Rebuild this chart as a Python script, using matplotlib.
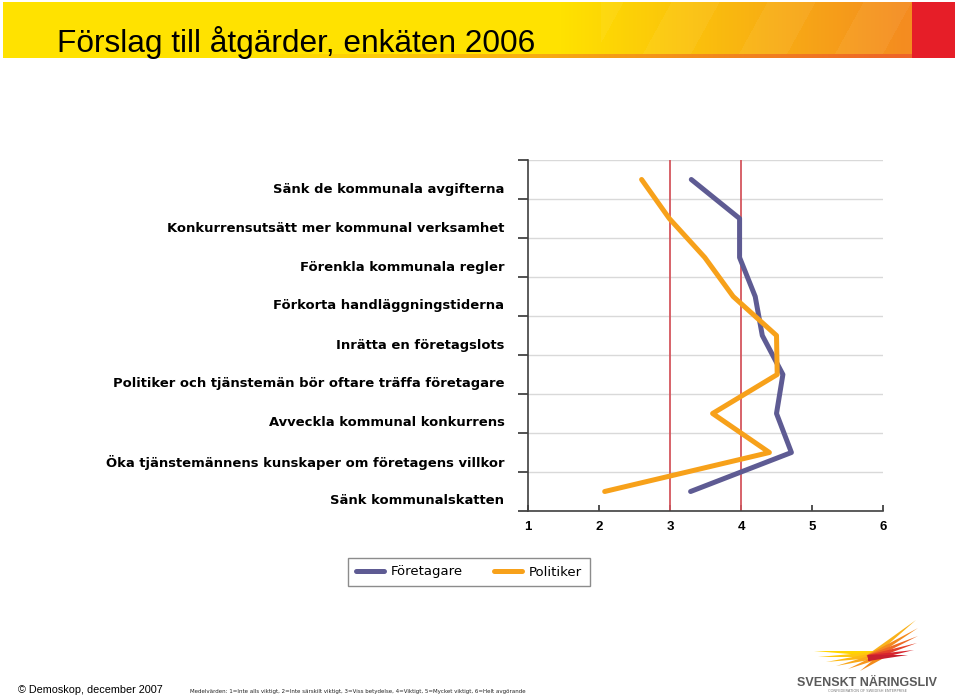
import numpy as np
import matplotlib.pyplot as plt
from matplotlib.transforms import ScaledTranslation

# data
categories = [
    "Sänk de kommunala avgifterna",
    "Konkurrensutsätt mer kommunal verksamhet",
    "Förenkla kommunala regler",
    "Förkorta handläggningstiderna",
    "Inrätta en företagslots",
    "Politiker och tjänstemän bör oftare träffa företagare",
    "Avveckla kommunal konkurrens",
    "Öka tjänstemännens kunskaper om företagens villkor",
    "Sänk kommunalskatten",
]
foretagare = [3.30, 3.98, 3.98, 4.20, 4.30, 4.59, 4.50, 4.71, 3.29]
politiker = [2.60, 2.99, 3.49, 3.89, 4.50, 4.51, 3.60, 4.40, 2.08]
x_ticks = [1, 2, 3, 4, 5, 6]
ref_lines = [3, 4]

title = "Förslag till åtgärder, enkäten 2006"
source = "© Demoskop, december 2007"
note = ("Medelvärden: 1=Inte alls viktigt, 2=Inte särskilt viktigt, 3=Viss betydelse, "
        "4=Viktigt, 5=Mycket viktigt, 6=Helt avgörande")

fig = plt.figure(figsize=(9.6, 6.98), dpi=100)

# background layer in pixel coordinates
bg = fig.add_axes([0, 0, 1, 1])
bg.set_xlim(0, 960)
bg.set_ylim(698, 0)
bg.axis('off')

# title banner
W, H = 952, 56
yy, xx = np.mgrid[0:H, 0:W]
xx = xx + 3
yy = yy + 2
yellow = np.array([255, 226, 0]) / 255
orange = np.array([244, 140, 32]) / 255
t = np.clip((xx - 560) / (905 - 560), 0, 1)[..., None]
img = yellow * (1 - t) + orange * t
stripe = (((xx + 0.55 * yy) // 48) % 2 == 0) & (xx > 600)
img[stripe] = img[stripe] * 0.95 + 0.05
tb = np.clip((xx - 250) / (905 - 250), 0, 1)[..., None]
strip = yellow * (1 - tb) + np.array([238, 100, 40]) / 255 * tb
low = yy >= 54
img[low] = strip[low]
img[xx >= 912] = np.array([230, 30, 40]) / 255
bg.imshow(img, extent=[3, 955, 58, 2], aspect='auto', zorder=0)
bg.text(57, 52, title, fontsize=22.8, family='Liberation Sans', color='black',
        va='baseline', ha='left')

# footer
bg.text(18, 690, source, fontsize=7.8, family='Liberation Sans', va='center')
bg.text(190, 691, note, fontsize=3.95, family='DejaVu Sans', va='center', color='#222222')

# logo
def feather(x0, y0, x1, y1, w, c):
    d = np.array([x1 - x0, y1 - y0], dtype=float)
    n = np.array([-d[1], d[0]]) / np.hypot(*d) * w / 2
    pts = [(x0 + n[0], y0 + n[1]), (x1, y1), (x0 - n[0], y0 - n[1])]
    bg.fill(*zip(*pts), color=c, lw=0, zorder=2)

for tip, c in zip([(814, 651), (818, 657), (826, 662), (836, 666), (848, 669), (860, 671)],
                  ['#FFD500', '#FFC810', '#FDB913', '#F9A81B', '#F7961D', '#F28A1A']):
    feather(885, 654, tip[0], tip[1], 6, c)
for tip, c in zip([(916, 620), (918, 628), (918, 636), (917, 643), (914, 650), (908, 655)],
                  ['#F9B21B', '#F48A1F', '#EE6A24', '#E4422A', '#D7262E', '#C8202F']):
    feather(868, 658, tip[0], tip[1], 6, c)
bg.text(867, 683, "SVENSKT NÄRINGSLIV", fontsize=9, fontweight='bold',
        family='Liberation Sans', color='#5A5A5A', ha='center', va='center')
bg.text(867, 691, "CONFEDERATION OF SWEDISH ENTERPRISE", fontsize=2.6,
        family='DejaVu Sans', color='#777777', ha='center', va='center')

# chart
ax = fig.add_axes([528 / 960, 1 - 511 / 698, (883 - 528) / 960, (511 - 160) / 698])
ypos = np.arange(len(categories)) + 0.5
ax.plot(foretagare, ypos, color='#5E5B93', lw=3.6, solid_capstyle='round', label='Företagare', zorder=3)
ax.plot(politiker, ypos, color='#F7A11A', lw=3.6, solid_capstyle='round', label='Politiker', zorder=3)
for v in ref_lines:
    ax.axvline(v, color='#D4565E', lw=1.3, zorder=2)

ax.set_xlim(1, 6)
ax.set_ylim(len(categories), 0)
ax.set_xticks(x_ticks)
ax.set_xticklabels([str(v) for v in x_ticks], fontweight='bold', fontsize=9.5, family='Liberation Sans')
ax.set_yticks(np.arange(len(categories) + 1))
ax.set_yticklabels([])
ax.set_yticks(ypos, minor=True)
ax.set_yticklabels(categories, minor=True, fontweight='bold', fontsize=9.45, family='DejaVu Sans')
ax.tick_params(axis='y', which='minor', length=0, pad=17)
ax.tick_params(axis='y', which='major', length=7, width=1.2, direction='out', color='#333333')
ax.tick_params(axis='x', direction='in', length=4, width=1.2, color='#333333', pad=7)
ax.grid(axis='y', which='major', color='#D9D9D9', lw=1, zorder=0)
ax.set_axisbelow(True)
for lbl in ax.get_yticklabels(minor=True):
    lbl.set_transform(lbl.get_transform() + ScaledTranslation(0, -8 / 100, fig.dpi_scale_trans))
for s in ['top', 'right']:
    ax.spines[s].set_visible(False)
for s in ['left', 'bottom']:
    ax.spines[s].set_color('#404040')
    ax.spines[s].set_linewidth(1.2)

fig.legend(*ax.get_legend_handles_labels(), loc='center',
           bbox_to_anchor=(469 / 960, 1 - 572 / 698), ncol=2, fancybox=False,
           edgecolor='#8C8C8C', fontsize=9.5, handlelength=2.1, handletextpad=0.5,
           columnspacing=2.4, borderpad=0.6, borderaxespad=0, framealpha=1)
fig.legend_handles = None

fig.savefig('out.png', dpi=100)
